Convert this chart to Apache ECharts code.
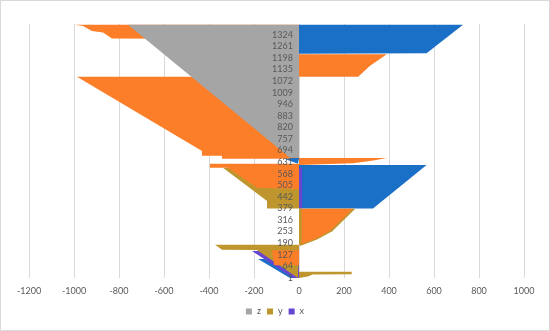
<!DOCTYPE html>
<html><head><meta charset="utf-8">
<script src="https://cdn.jsdelivr.net/npm/echarts@6/dist/echarts.min.js"></script>
<style>
html,body{margin:0;padding:0;background:#fff}
#c{position:absolute;left:0;top:0;width:550px;height:331px}
#frame{position:absolute;left:0;top:0;width:550px;height:331px;box-sizing:border-box;border:1px solid #D9D9D9;pointer-events:none}
</style>
</head><body><div id="c"></div><div id="frame"></div>
<script>
// ---- data ----
const categoryCount = 1382;
const tickLabels = [1,64,127,190,253,316,379,442,505,568,631,694,757,820,883,946,1009,1072,1135,1198,1261,1324];
const legendNames = ['z','y','x'];
// each area: [value, category] vertices, filled toward 0
const orangeTopLeft   = [[-996,1378],[-960,1372],[-920,1345],[-871,1336],[-831,1303],[-831,1300]];
const orangeMidLeft   = [[-987,1095],[-431,692],[-431,665],[-342,665],[-342,649]];
const zGray           = [[-760,1378],[-40,655]];
const blueNotch       = [[-30,654],[-62,648],[-5,622]];
const blueTopRight    = [[729,1378],[567,1224],[567,1221]];
const orangeTopRight  = [[390,1218],[316,1155],[263,1095]];
const orangeThinRight = [[390,654],[330,640],[240,625],[240,616]];
const blueMidRight    = [[567,616],[329,378]];
const xStripRight     = [[14,600],[14,380]];
const yMidRight       = [[250,377],[148,255],[80,210],[5,175]];
const orangeMidRight  = [[240,377],[138,257],[71,213],[0,180]];
const yStripRight     = [[12,377],[12,185]];
const yMidLeft        = [[-338,600],[-142,420],[-142,378]];
const orangeMidLeft2  = [[-396,622],[-396,601],[-315,600],[-188,492],[-188,485]];
const blueLowLeft     = [[-182,104],[-40,1]];
const xLowLeft        = [[-209,148],[-27,1]];
const yLowLeft        = [[-373,181],[-342,154],[-187,153],[-5,1]];
const orangeLowLeft   = [[-120,152],[-110,70]];
const yLowRight       = [[234,35],[234,21],[60,20],[40,8],[0,1]];

const C = {gray:'#A5A5A5', orange:'#FD7E28', blue:'#1A6FC6', olive:'#BE962D', purple:'#6646D0'};

const categories = [];
for (let i = 1; i <= categoryCount; i++) categories.push(String(i));
const tickSet = new Set(tickLabels.map(String));

function area(name, color, pts) {
  return {
    type:'line', name: name, data: pts.map(p => [p[0], String(p[1])]),
    symbol:'none', showSymbol:false, silent:true, animation:false,
    lineStyle:{width:0, color: color}, itemStyle:{color: color},
    areaStyle:{color: color, opacity:1}
  };
}

const series = [
  area('o1', C.orange, orangeTopLeft),
  area('o2', C.orange, orangeMidLeft),
  area('z',  C.gray,   zGray),
  area('b1', C.blue,   blueNotch),
  area('b2', C.blue,   blueTopRight),
  area('o3', C.orange, orangeTopRight),
  area('o4', C.orange, orangeThinRight),
  area('b3', C.blue,   blueMidRight),
  area('x',  C.purple, xStripRight),
  area('y',  C.olive,  yMidRight),
  area('o5', C.orange, orangeMidRight),
  area('y',  C.olive,  yStripRight),
  area('y',  C.olive,  yMidLeft),
  area('o6', C.orange, orangeMidLeft2),
  area('b4', C.blue,   blueLowLeft),
  area('x',  C.purple, xLowLeft),
  area('y',  C.olive,  yLowLeft),
  area('o7', C.orange, orangeLowLeft),
  area('y',  C.olive,  yLowRight)
];

const gridLeft = 29;
const chart = echarts.init(document.getElementById('c'), null, {renderer:'canvas'});
chart.setOption({
  animation:false,
  backgroundColor:'#ffffff',
  textStyle:{fontFamily:'Lato'},
  grid:{left:gridLeft, right:26, top:24, bottom:53},
  legend:{
    data: legendNames, top:302, left:'center', icon:'rect',
    itemWidth:6, itemHeight:6, itemGap:6,
    textStyle:{fontSize:9, color:'#595959', fontFamily:'Lato'}
  },
  xAxis:{
    type:'value', min:-1200, max:1000, interval:200,
    axisLine:{show:false, onZero:false}, axisTick:{show:false},
    splitLine:{lineStyle:{color:'#D9D9D9', width:1}},
    axisLabel:{color:'#595959', fontSize:9, margin:9, fontFamily:'Lato',
      formatter:function(v){ return String(v); }}
  },
  yAxis:{
    type:'category', data: categories, z:10, position:'left',
    axisLine:{show:false}, axisTick:{show:false},
    splitLine:{show:false},
    axisLabel:{
      interval:function(i, v){ return tickSet.has(v); },
      color:'#595959', fontSize:9, margin:7, fontFamily:'Lato'
    }
  },
  series: series
});
// place the category axis where the value axis crosses zero
const zeroX = chart.convertToPixel({xAxisIndex:0}, 0);
chart.setOption({ yAxis:{ offset: -(zeroX - gridLeft) } });
</script>
</body></html>
